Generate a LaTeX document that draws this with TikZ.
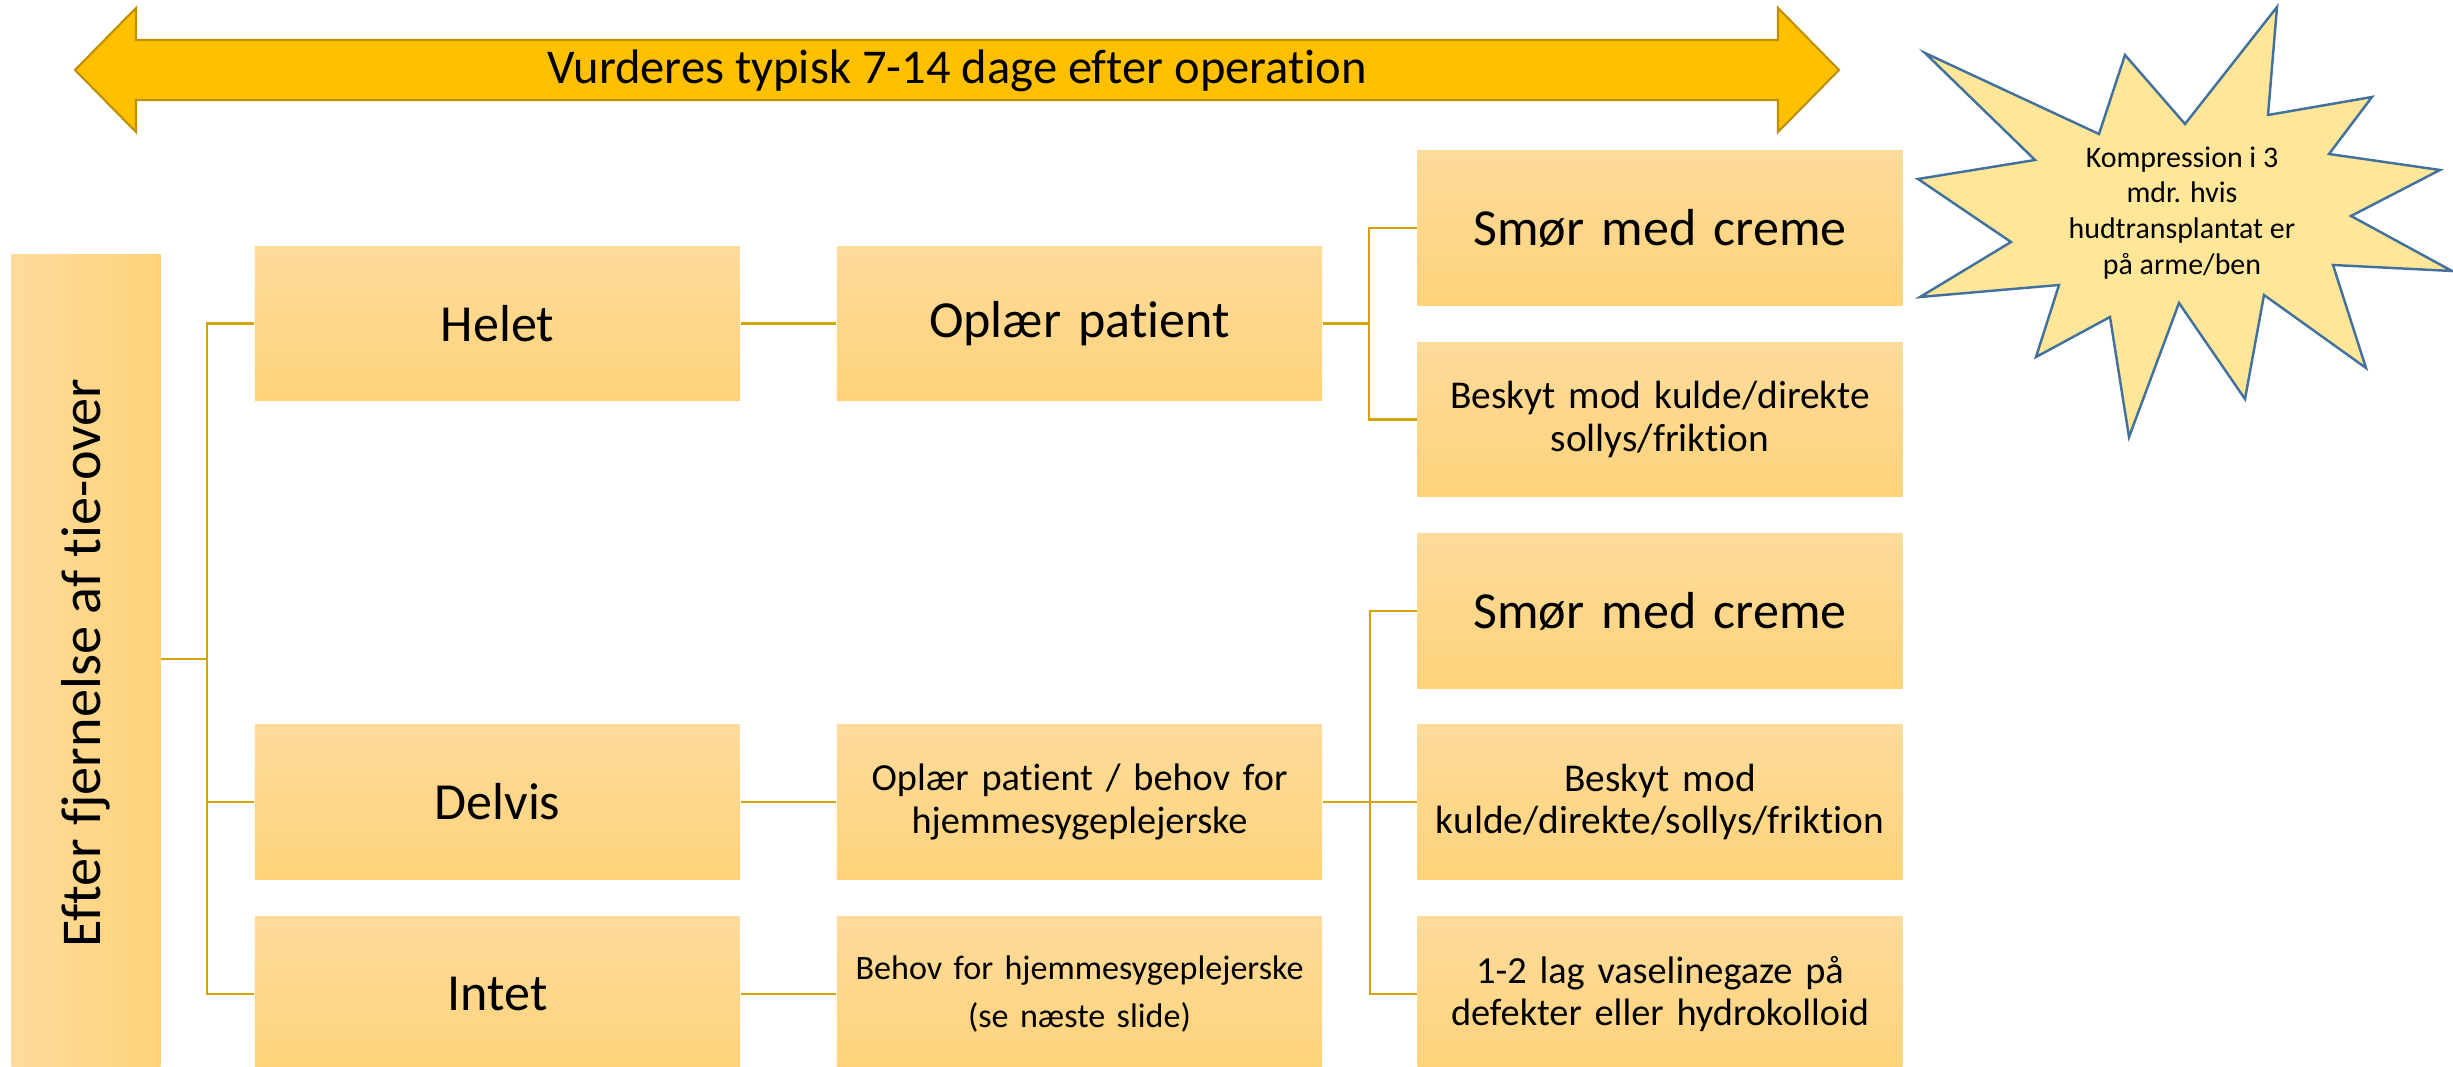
\documentclass[tikz,border=0pt]{standalone}
\usepackage{fontspec}
\usepackage{graphicx}
\setmainfont{Carlito}[Ligatures=NoCommon]
\usetikzlibrary{calc}
\definecolor{boxtop}{RGB}{254,219,156}
\definecolor{boxbot}{RGB}{254,211,122}
\definecolor{conn}{RGB}{214,164,0}
\definecolor{arrowfill}{RGB}{255,192,0}
\definecolor{arrowline}{RGB}{191,144,0}
\definecolor{starfill}{RGB}{255,230,153}
\definecolor{starline}{RGB}{65,113,156}
\newcommand\fsRoot{\fontsize{16pt}{19pt}\selectfont}
\newcommand\fsBig{\fontsize{14.8pt}{17.8pt}\selectfont}
\newcommand\fsMed{\fontsize{10.9pt}{12.2pt}\selectfont}
\newcommand\fsMedB{\fontsize{11.2pt}{12.2pt}\selectfont}
\newcommand\fsSmall{\fontsize{9.7pt}{13.4pt}\selectfont}
\newcommand\fsStar{\fontsize{8.5pt}{10.2pt}\selectfont}
\newcommand\fsArrow{\fontsize{13.8pt}{16pt}\selectfont}
\begin{document}
\begin{tikzpicture}[x=0.01cm, y=-0.01cm,
  box/.style={rectangle, inner sep=0pt, top color=boxtop, bottom color=boxbot, draw=none,
    minimum width=4.85cm, minimum height=1.54cm, align=center, text width=4.8cm},
  link/.style={draw=conn, line width=0.8pt}]
\useasboundingbox (0,0) rectangle (2453,1067);

% top double arrow
\draw[fill=arrowfill, draw=arrowline, line width=0.6pt]
  (75,70) -- (136,8) -- (136,40) -- (1778,40) -- (1778,8) -- (1839,70)
  -- (1778,132) -- (1778,100) -- (136,100) -- (136,132) -- cycle;
\node[font=\fsArrow] (arrowtxt) at (957,71) {Vurderes typisk 7-14 dage efter operation};

% starburst
\draw[fill=starfill, draw=starline, line width=0.7pt]
  (2277,7) -- (2268,115) -- (2372,97) -- (2329,154) -- (2440,170) -- (2351,216)
  -- (2452,271) -- (2333,265) -- (2366,368) -- (2264,295) -- (2245,399) -- (2179,303)
  -- (2129,437) -- (2110,317) -- (2036,357) -- (2059,285) -- (1920,297) -- (2011,242)
  -- (1918,179) -- (2035,160) -- (1925,53) -- (2099,134) -- (2125,55) -- (2185,124) -- cycle;
\node[font=\fsStar, align=center] (burst) at (2182,213)
  {Kompression i 3\\mdr. hvis\\hudtransplantat er\\på arme/ben};

% root
\node[rectangle, inner sep=0pt, left color=boxtop, right color=boxbot, draw=none,
  minimum width=1.49cm, minimum height=8.16cm] (root) at (86,663)
  {\rotatebox{90}{\fsRoot Efter fjernelse af tie-over}};

% level 1
\node[box, font=\fsBig] (helet) at (497.5,323.5) {Helet};
\node[box, font=\fsBig] (delvis) at (497.5,802) {Delvis};
\node[box, font=\fsBig] (intet) at (497.5,994) {Intet};

% level 2
\node[box, font=\fsBig] (oplaer) at (1079.5,323.5) {Oplær patient};
\node[box, font=\fsMed] (oplaer2) at (1079.5,802) {Oplær patient / behov for\\hjemmesygeplejerske};
\node[box, font=\fsSmall] (behov) at (1079.5,994) {Behov for hjemmesygeplejerske\\(se næste slide)};

% level 3
\node[box, font=\fsBig] (smor1) at (1660,228) {Smør med creme};
\node[box, font=\fsMedB] (beskyt1) at (1660,419.5) {Beskyt mod kulde/direkte\\sollys/friktion};
\node[box, font=\fsBig] (smor2) at (1660,611) {Smør med creme};
\node[box, font=\fsMedB] (beskyt2) at (1660,802) {Beskyt mod\\kulde/direkte/sollys/friktion};
\node[box, font=\fsMed] (vaseline) at (1660,994) {1-2 lag vaselinegaze på\\defekter eller hydrokolloid};

% connectors
\coordinate (b1) at (207,659);
\draw[link] (root.east |- b1) -- (b1);
\draw[link] (helet.west) -| (b1) |- (intet.west);
\draw[link] (b1) |- (delvis.west);
\draw[link] (helet.east) -- (oplaer.west);
\draw[link] (delvis.east) -- (oplaer2.west);
\draw[link] (intet.east) -- (behov.west);

\coordinate (b2) at (1369,323.5);
\draw[link] (oplaer.east) -- (b2);
\draw[link] (smor1.west) -| (b2) |- (beskyt1.west);

\coordinate (b3) at (1370,802);
\draw[link] (oplaer2.east) -- (b3) -- (beskyt2.west);
\draw[link] (smor2.west) -| (b3) |- (vaseline.west);
\end{tikzpicture}
\end{document}
